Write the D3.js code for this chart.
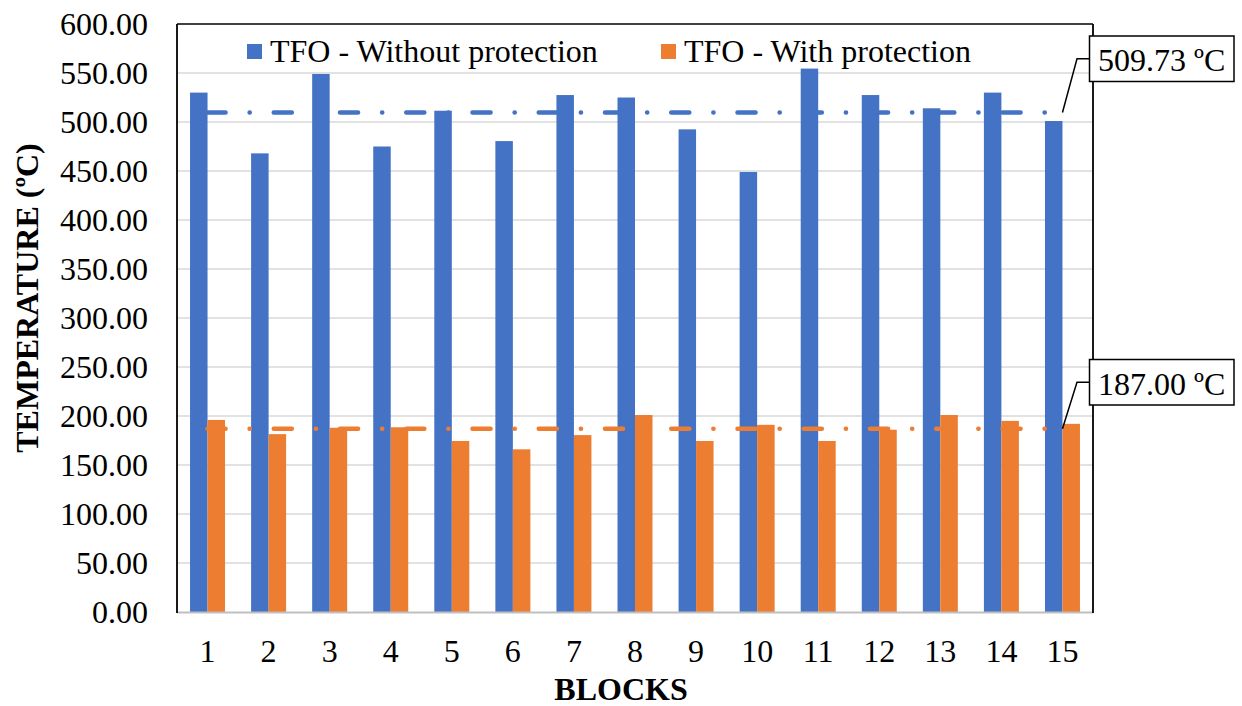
<!DOCTYPE html>
<html>
<head>
<meta charset="utf-8">
<script src="https://cdn.jsdelivr.net/npm/d3@7/dist/d3.min.js"></script>
<style>
  html, body { margin: 0; padding: 0; background: #fff; }
  svg { display: block; font-family: "Liberation Serif", "Times New Roman", serif; }
</style>
</head>
<body>
<svg id="chart" width="1242" height="706"></svg>
<script>
const categories = ["1","2","3","4","5","6","7","8","9","10","11","12","13","14","15"];
const withoutProtection = [530, 468, 549, 475, 511.5, 480.5, 527.5, 525, 492.5, 449, 554.5, 527.5, 514, 530, 501];
const withProtection = [196, 181.5, 188, 188.5, 174.5, 166, 180.5, 201, 174.5, 191, 174.5, 186, 201, 195, 192];
const seriesNames = ["TFO - Without protection", "TFO - With protection"];
const averages = [509.73, 187.00];
const averageLabels = ["509.73 ºC", "187.00 ºC"];
const yTicks = [0, 50, 100, 150, 200, 250, 300, 350, 400, 450, 500, 550, 600];
const colors = ["#4472C4", "#ED7D31"];

const svg = d3.select("#chart");
const L = 177, R = 1093, T = 24, B = 612;
const FS = 32;

const x = d3.scaleBand().domain(categories).range([L, R]).paddingInner(0.427).paddingOuter(0.2135);
const xs = d3.scaleBand().domain([0, 1]).range([0, x.bandwidth()]);
const y = d3.scaleLinear().domain([0, 600]).range([B, T]);

// gridlines
svg.append("g").selectAll("line").data(yTicks.filter(v => v > 0 && v < 600)).join("line")
  .attr("x1", L).attr("x2", R).attr("y1", d => y(d)).attr("y2", d => y(d))
  .attr("stroke", "#d9d9d9").attr("stroke-width", 1.5);

// bars
const series = [withoutProtection, withProtection];
series.forEach((vals, si) => {
  svg.append("g").selectAll("rect").data(vals).join("rect")
    .attr("x", (d, i) => x(categories[i]) + xs(si))
    .attr("width", xs.bandwidth())
    .attr("y", d => y(d))
    .attr("height", d => y(0) - y(d))
    .attr("fill", colors[si]);
});

// average lines
averages.forEach((a, si) => {
  const x1 = x(categories[0]) + x.bandwidth() / 2;
  const x2 = x(categories[categories.length - 1]) + x.bandwidth() / 2;
  svg.append("line")
    .attr("x1", x1).attr("x2", x2).attr("y1", y(a)).attr("y2", y(a))
    .attr("stroke", colors[si]).attr("stroke-width", 4.6)
    .attr("stroke-linecap", "round")
    .attr("stroke-dasharray", "18 24.1 0.1 24.05");
});

// axis lines / border
svg.append("line").attr("x1", L).attr("x2", R).attr("y1", B + 0.5).attr("y2", B + 0.5)
  .attr("stroke", "#bfbfbf").attr("stroke-width", 2);
svg.append("line").attr("x1", L).attr("x2", R).attr("y1", T).attr("y2", T)
  .attr("stroke", "#000").attr("stroke-width", 1.5);
svg.append("line").attr("x1", L).attr("x2", L).attr("y1", T).attr("y2", B + 1)
  .attr("stroke", "#000").attr("stroke-width", 1.8);
svg.append("line").attr("x1", R).attr("x2", R).attr("y1", T).attr("y2", B + 1)
  .attr("stroke", "#000").attr("stroke-width", 1.8);

// y tick labels
svg.append("g").selectAll("text").data(yTicks).join("text")
  .attr("x", 148).attr("y", d => y(d) + 11)
  .attr("text-anchor", "end").attr("font-size", FS).attr("fill", "#000")
  .text(d => d.toFixed(2));

// x tick labels
svg.append("g").selectAll("text").data(categories).join("text")
  .attr("x", d => x(d) + x.bandwidth() / 2).attr("y", 661.5)
  .attr("text-anchor", "middle").attr("font-size", FS).attr("fill", "#000")
  .text(d => d);

// axis titles
svg.append("text").attr("x", 621).attr("y", 700).attr("text-anchor", "middle")
  .attr("font-size", FS).attr("font-weight", "bold").text("BLOCKS");
svg.append("text").attr("transform", "translate(38,298) rotate(-90)").attr("text-anchor", "middle")
  .attr("font-size", FS).attr("font-weight", "bold").text("TEMPERATURE (ºC)");

// legend
const legendX = [247, 661];
seriesNames.forEach((n, i) => {
  svg.append("rect").attr("x", legendX[i]).attr("y", 44).attr("width", 15).attr("height", 15).attr("fill", colors[i]);
  svg.append("text").attr("x", legendX[i] + 23).attr("y", 61.5).attr("font-size", FS).attr("fill", "#000").text(n);
});

// callouts
const boxTop = [36, 359.5];
averages.forEach((a, i) => {
  const bx = 1089.5, bw = 144.5, bh = 45.5, by = boxTop[i];
  const ex = x(categories[categories.length - 1]) + x.bandwidth() / 2;
  const ey = y(a);
  const my = by + bh / 2;
  svg.append("path")
    .attr("d", `M${bx},${my} L${bx - 12.5},${my} L${ex},${ey}`)
    .attr("fill", "none").attr("stroke", "#000").attr("stroke-width", 1.5);
  svg.append("rect").attr("x", bx).attr("y", by).attr("width", bw).attr("height", bh)
    .attr("fill", "#fff").attr("stroke", "#000").attr("stroke-width", 1.5);
  svg.append("text").attr("x", bx + bw / 2).attr("y", by + 35).attr("text-anchor", "middle")
    .attr("font-size", FS).attr("fill", "#000").text(averageLabels[i]);
});
</script>
</body>
</html>
